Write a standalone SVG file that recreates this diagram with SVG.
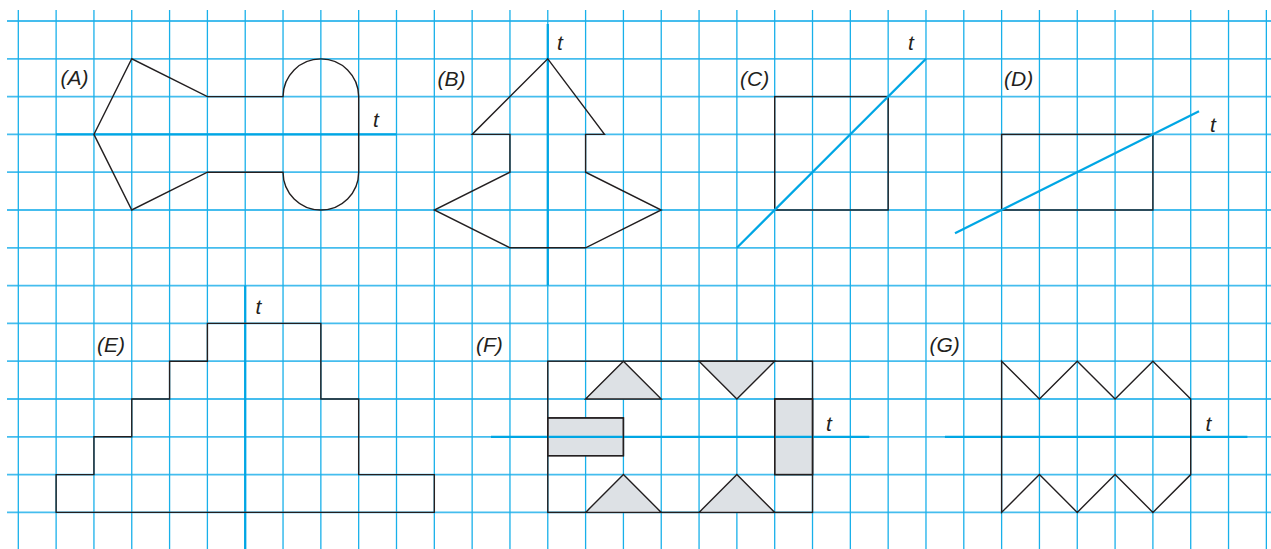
<svg xmlns="http://www.w3.org/2000/svg" width="1271" height="549" viewBox="0 0 1271 549">
<style>
.gv{stroke:#18b0ea;stroke-width:1.3;fill:none}
.gh{stroke:#45bdee;stroke-width:1.8;fill:none}
.ax{stroke:#00a6e4;stroke-width:2.3;fill:none}
.sh{stroke:#231f20;stroke-width:1.4;fill:none;stroke-linejoin:miter}
.fl{fill:#dde1e5;stroke:#231f20;stroke-width:1.4}
.lb{font-family:"Liberation Sans",Arial,sans-serif;font-style:italic;font-size:21px;fill:#231f20}
</style>
<rect width="1271" height="549" fill="#ffffff"/>
<g id="grid">
<g class="gh">
<line x1="7" y1="21" x2="1271" y2="21"/>
<line x1="7" y1="58.8" x2="1271" y2="58.8"/>
<line x1="7" y1="96.6" x2="1271" y2="96.6"/>
<line x1="7" y1="134.4" x2="1271" y2="134.4"/>
<line x1="7" y1="172.2" x2="1271" y2="172.2"/>
<line x1="7" y1="210" x2="1271" y2="210"/>
<line x1="7" y1="247.8" x2="1271" y2="247.8"/>
<line x1="7" y1="285.6" x2="1271" y2="285.6"/>
<line x1="7" y1="323.4" x2="1271" y2="323.4"/>
<line x1="7" y1="361.2" x2="1271" y2="361.2"/>
<line x1="7" y1="399" x2="1271" y2="399"/>
<line x1="7" y1="436.8" x2="1271" y2="436.8"/>
<line x1="7" y1="474.6" x2="1271" y2="474.6"/>
<line x1="7" y1="512.4" x2="1271" y2="512.4"/>
</g>
<g class="gv">
<line x1="18.3" y1="10" x2="18.3" y2="549"/>
<line x1="56.12" y1="10" x2="56.12" y2="549"/>
<line x1="93.94" y1="10" x2="93.94" y2="549"/>
<line x1="131.76" y1="10" x2="131.76" y2="549"/>
<line x1="169.58" y1="10" x2="169.58" y2="549"/>
<line x1="207.4" y1="10" x2="207.4" y2="549"/>
<line x1="245.22" y1="10" x2="245.22" y2="549"/>
<line x1="283.04" y1="10" x2="283.04" y2="549"/>
<line x1="320.86" y1="10" x2="320.86" y2="549"/>
<line x1="358.68" y1="10" x2="358.68" y2="549"/>
<line x1="396.5" y1="10" x2="396.5" y2="549"/>
<line x1="434.32" y1="10" x2="434.32" y2="549"/>
<line x1="472.14" y1="10" x2="472.14" y2="549"/>
<line x1="509.96" y1="10" x2="509.96" y2="549"/>
<line x1="547.78" y1="10" x2="547.78" y2="549"/>
<line x1="585.6" y1="10" x2="585.6" y2="549"/>
<line x1="623.42" y1="10" x2="623.42" y2="549"/>
<line x1="661.24" y1="10" x2="661.24" y2="549"/>
<line x1="699.06" y1="10" x2="699.06" y2="549"/>
<line x1="736.88" y1="10" x2="736.88" y2="549"/>
<line x1="774.7" y1="10" x2="774.7" y2="549"/>
<line x1="812.52" y1="10" x2="812.52" y2="549"/>
<line x1="850.34" y1="10" x2="850.34" y2="549"/>
<line x1="888.16" y1="10" x2="888.16" y2="549"/>
<line x1="925.98" y1="10" x2="925.98" y2="549"/>
<line x1="963.8" y1="10" x2="963.8" y2="549"/>
<line x1="1001.62" y1="10" x2="1001.62" y2="549"/>
<line x1="1039.44" y1="10" x2="1039.44" y2="549"/>
<line x1="1077.26" y1="10" x2="1077.26" y2="549"/>
<line x1="1115.08" y1="10" x2="1115.08" y2="549"/>
<line x1="1152.9" y1="10" x2="1152.9" y2="549"/>
<line x1="1190.72" y1="10" x2="1190.72" y2="549"/>
<line x1="1228.54" y1="10" x2="1228.54" y2="549"/>
<line x1="1266.36" y1="10" x2="1266.36" y2="549"/>
</g>
</g>

<g id="figA">
<line class="ax" x1="56.12" y1="134.4" x2="396.5" y2="134.4"/>
<path class="sh" d="M283.04,96.6 A37.82,37.8 0 0 1 358.68,96.6 L358.68,172.2 A37.82,37.8 0 0 1 283.04,172.2 L207.4,172.2 L131.76,210 L93.94,134.4 L131.76,58.8 L207.4,96.6 Z"/>
<text class="lb" x="60.5" y="85">(A)</text>
<text class="lb" x="373" y="127">t</text>
</g>

<g id="figB">
<line class="ax" x1="547.78" y1="24" x2="547.78" y2="285.6"/>
<path class="sh" d="M547.78,58.8 L604.5,134.4 L585.6,134.4 L585.6,172.2 L661.24,210 L585.6,247.8 L509.96,247.8 L434.32,210 L509.96,172.2 L509.96,134.4 L472.14,134.4 Z"/>
<text class="lb" x="437.5" y="86">(B)</text>
<text class="lb" x="557" y="49.5">t</text>
</g>

<g id="figC">
<rect class="sh" x="774.7" y="96.6" width="113.46" height="113.4"/>
<line class="ax" x1="736.88" y1="247.8" x2="925.98" y2="58.8"/>
<text class="lb" x="740" y="86">(C)</text>
<text class="lb" x="908" y="49.5">t</text>
</g>

<g id="figD">
<rect class="sh" x="1001.62" y="134.4" width="151.28" height="75.6"/>
<line class="ax" x1="955" y1="233.3" x2="1199" y2="111.3"/>
<text class="lb" x="1004" y="86">(D)</text>
<text class="lb" x="1210" y="131.5">t</text>
</g>

<g id="figE">
<line class="ax" x1="245.22" y1="285.6" x2="245.22" y2="549"/>
<path class="sh" d="M56.12,512.4 L56.12,474.6 L93.94,474.6 L93.94,436.8 L131.76,436.8 L131.76,399 L169.58,399 L169.58,361.2 L207.4,361.2 L207.4,323.4 L320.86,323.4 L320.86,399 L358.68,399 L358.68,474.6 L434.32,474.6 L434.32,512.4 Z"/>
<text class="lb" x="97" y="352">(E)</text>
<text class="lb" x="255.5" y="314">t</text>
</g>

<g id="figF">
<rect class="sh" x="547.78" y="361.2" width="264.74" height="151.2"/>
<polygon class="fl" points="585.6,399 623.42,361.2 661.24,399"/>
<polygon class="fl" points="699.06,361.2 736.88,399 774.7,361.2"/>
<polygon class="fl" points="585.6,512.4 623.42,474.6 661.24,512.4"/>
<polygon class="fl" points="699.06,512.4 736.88,474.6 774.7,512.4"/>
<rect class="fl" x="547.78" y="417.9" width="75.64" height="37.8"/>
<rect class="fl" x="774.7" y="399" width="37.82" height="75.6"/>
<line class="ax" x1="491" y1="436.8" x2="869.3" y2="436.8"/>
<rect class="sh" x="547.78" y="417.9" width="75.64" height="37.8"/>
<rect class="sh" x="774.7" y="399" width="37.82" height="75.6"/>
<text class="lb" x="476" y="352">(F)</text>
<text class="lb" x="826" y="430.5">t</text>
</g>

<g id="figG">
<line class="ax" x1="944.9" y1="436.8" x2="1247.4" y2="436.8"/>
<path class="sh" d="M1001.62,361.2 L1039.44,399 L1077.26,361.2 L1115.08,399 L1152.9,361.2 L1190.72,399 L1190.72,474.6 L1152.9,512.4 L1115.08,474.6 L1077.26,512.4 L1039.44,474.6 L1001.62,512.4 Z"/>
<text class="lb" x="929.5" y="352">(G)</text>
<text class="lb" x="1205.5" y="430.5">t</text>
</g>
</svg>
